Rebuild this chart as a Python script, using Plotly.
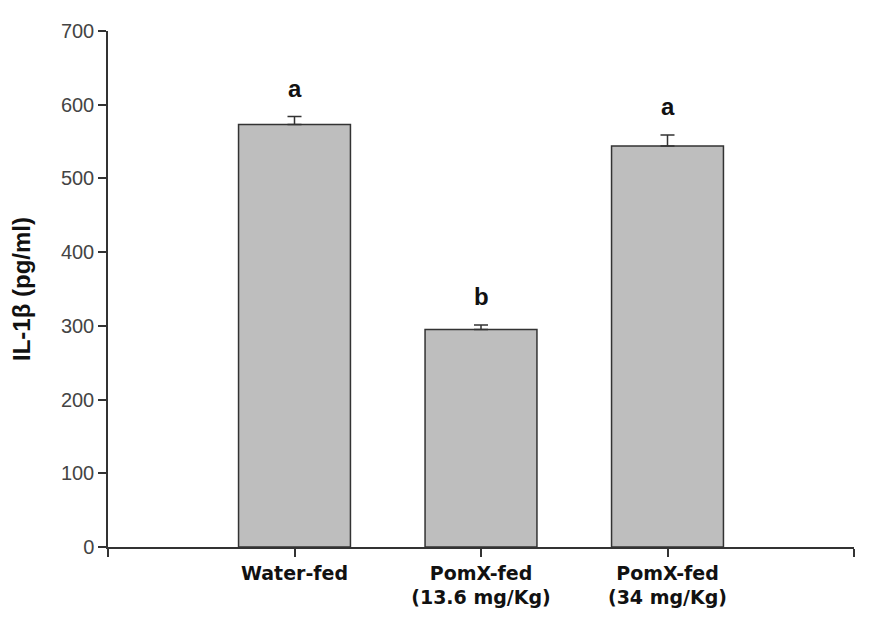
import plotly.graph_objects as go

categories = ["Water-fed", "PomX-fed<br>(13.6 mg/Kg)", "PomX-fed<br>(34 mg/Kg)"]
values = [573, 295, 544]
errors = [11, 6, 15]
letters = ["a", "b", "a"]
positions = [1, 2, 3]

fig = go.Figure()
fig.add_trace(go.Bar(
    x=positions, y=values, width=0.6,
    marker=dict(color="#bebebe", line=dict(color="#333333", width=1.5)),
    error_y=dict(type="data", array=errors, symmetric=False, arrayminus=[0, 0, 0],
                 color="#333333", thickness=1.5, width=7),
))
for p, v, e, t in zip(positions, values, errors, letters):
    fig.add_annotation(x=p, y=v + e, text="<b>%s</b>" % t, showarrow=False,
                       yanchor="bottom", yshift=13,
                       font=dict(family="Liberation Sans, Arial", size=24, color="#111111"))

fig.update_layout(
    width=869, height=618,
    margin=dict(l=100, r=23, t=15, b=79),
    plot_bgcolor="white", paper_bgcolor="white",
    showlegend=False,
    font=dict(family="Liberation Sans, Arial", color="#222222"),
)
fig.update_xaxes(
    range=[0, 4], tickmode="array", tickvals=[0, 1, 2, 3, 4],
    ticktext=["", "<b>" + categories[0] + "</b>", "<b>" + categories[1] + "</b>", "<b>" + categories[2] + "</b>", ""],
    ticks="outside", ticklen=8, tickwidth=1.5, tickcolor="#333333",
    showline=True, linecolor="#333333", linewidth=1.5, showgrid=False, zeroline=False,
    tickfont=dict(family="DejaVu Sans", size=19, color="#111111"),
)
fig.update_yaxes(
    range=[0, 700], tickvals=[0, 100, 200, 300, 400, 500, 600, 700],
    ticks="outside", ticklen=8, tickwidth=1.5, tickcolor="#333333",
    showline=True, linecolor="#333333", linewidth=1.5, showgrid=False, zeroline=False,
    tickfont=dict(size=20, color="#444444"),
    title=dict(text="<b>IL-1β (pg/ml)</b>", font=dict(size=24, color="#111111"), standoff=24),
)
fig.write_html("out.html")
